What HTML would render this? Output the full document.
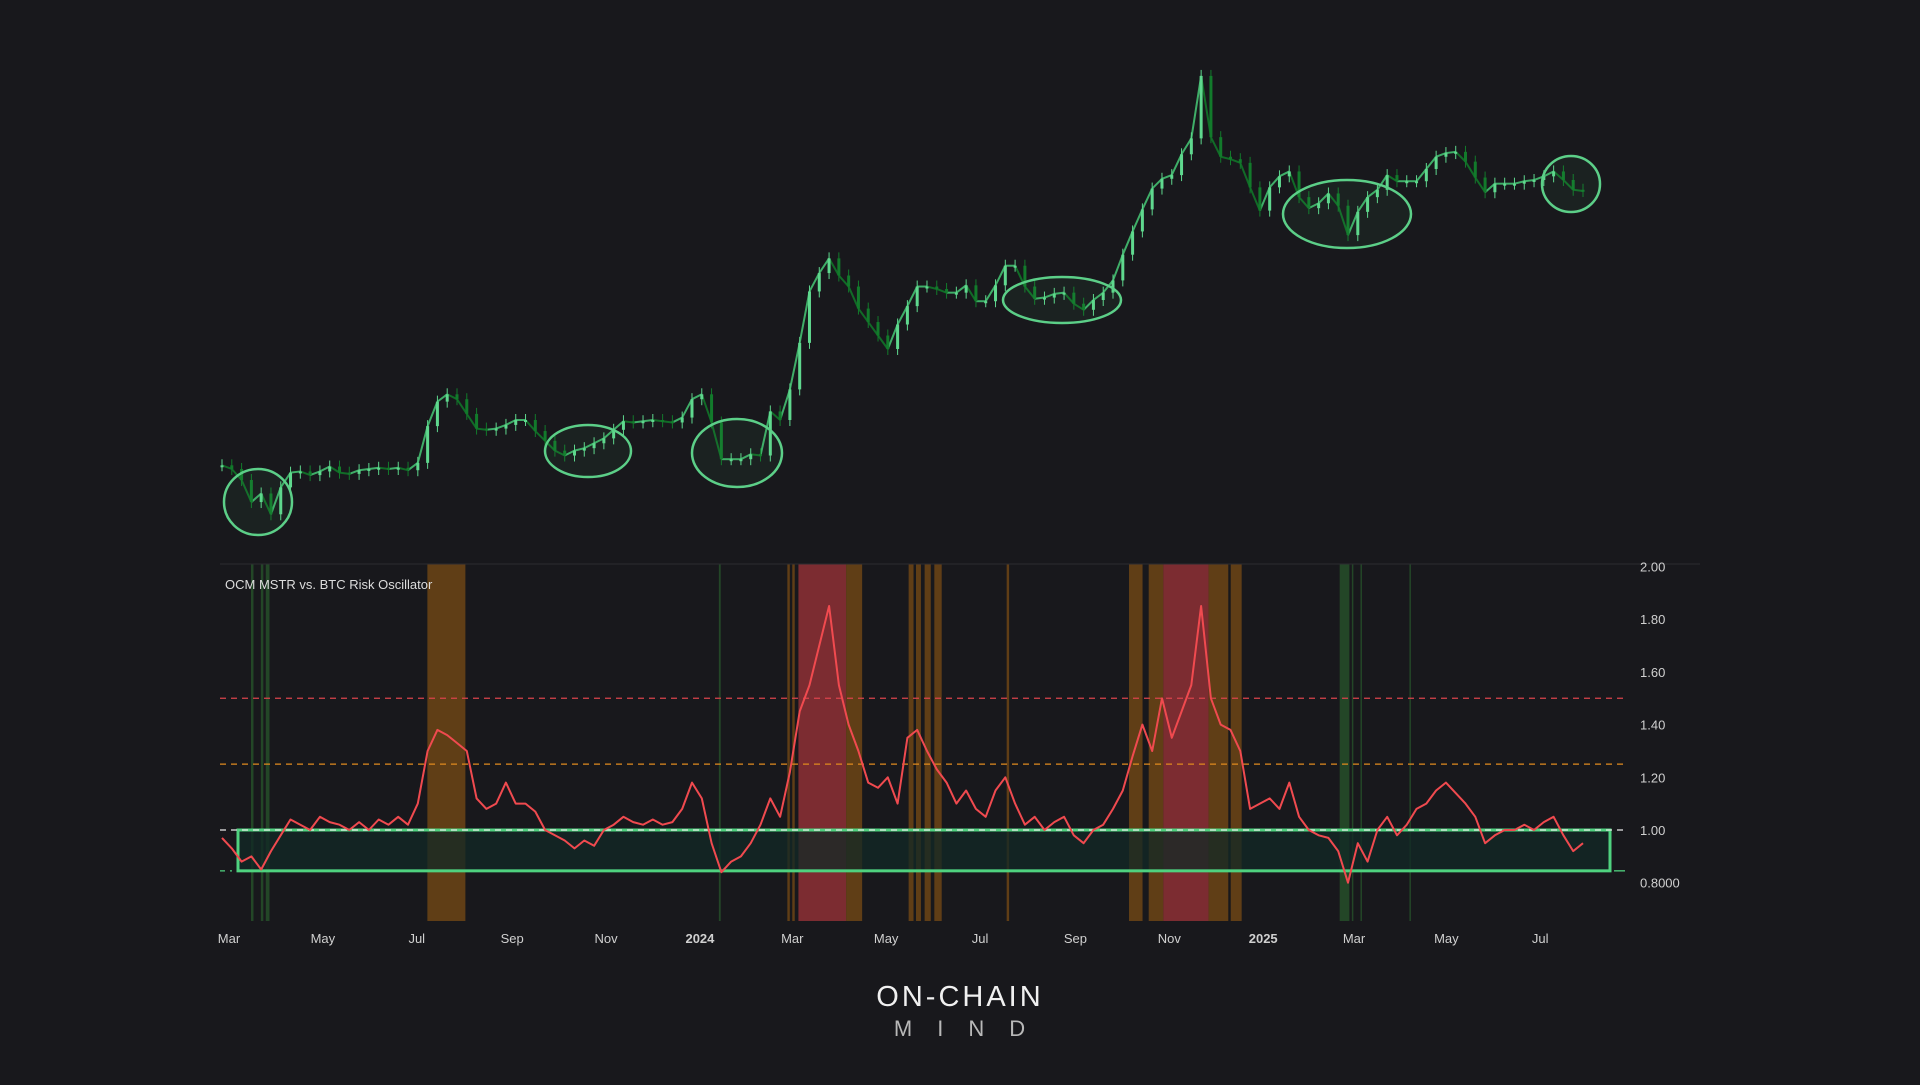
<!DOCTYPE html>
<html><head><meta charset="utf-8"><title>OCM MSTR vs BTC Risk Oscillator</title>
<style>
html,body{margin:0;padding:0;background:#18181c;}
body{width:1920px;height:1080px;overflow:hidden;font-family:"Liberation Sans",sans-serif;}
svg text{font-family:"Liberation Sans",sans-serif;}
</style></head>
<body>
<svg id="chart" width="1920" height="1080" viewBox="0 0 1920 1080" xmlns="http://www.w3.org/2000/svg">
  <rect x="0" y="0" width="1920" height="1080" fill="#18181c"/>
  <g id="bands"></g>
  <line x1="220" y1="564" x2="1700" y2="564" stroke="#2b2b31" stroke-width="1"/>
  <g id="levels"></g>
  <g id="price"></g>
  <g id="circles"></g>
  <g id="osc"></g>
  <g id="yaxis"></g>
  <g id="xaxis"></g>
  <text x="225" y="589" font-size="13" fill="#dcdcdc">OCM MSTR vs. BTC Risk Oscillator</text>
  <text x="960" y="1006" font-size="29" fill="#f0f0f0" text-anchor="middle" letter-spacing="3">ON-CHAIN</text>
  <text x="972" y="1036" font-size="22" fill="#b8b8b8" text-anchor="middle" letter-spacing="25">MIND</text>
</svg>
<script>
const priceCloses = [70,67,58,40,47,30,52,64,65,62,65,69,64,63,66,67,68,67,68,66,72,102,122,128,124,112,100,99,100,103,107,107,98,90,82,78,82,84,88,92,99,106,105,106,107,106,105,109,124,128,105,75,75,75,79,78,114,107,132,170,212,227,239,225,216,198,187,176,165,185,200,216,216,214,211,211,217,204,204,217,233,233,216,206,207,210,211,202,197,205,211,221,242,261,279,296,304,307,324,337,388,338,322,320,317,297,278,297,306,310,289,280,284,292,282,258,277,289,295,307,302,302,302,312,322,325,326,318,305,293,300,300,300,302,303,306,310,303,295,294];
const oscValues = [0.97,0.93,0.88,0.90,0.85,0.92,0.98,1.04,1.02,1.00,1.05,1.03,1.02,1.00,1.03,1.00,1.04,1.02,1.05,1.02,1.10,1.30,1.38,1.36,1.33,1.30,1.12,1.08,1.10,1.18,1.10,1.10,1.07,1.00,0.98,0.96,0.93,0.96,0.94,1.00,1.02,1.05,1.03,1.02,1.04,1.02,1.03,1.08,1.18,1.12,0.95,0.84,0.88,0.90,0.95,1.02,1.12,1.05,1.22,1.45,1.55,1.70,1.85,1.55,1.40,1.30,1.18,1.16,1.20,1.10,1.35,1.38,1.30,1.23,1.18,1.10,1.15,1.08,1.05,1.15,1.20,1.10,1.02,1.05,1.00,1.03,1.05,0.98,0.95,1.00,1.02,1.08,1.15,1.28,1.40,1.30,1.50,1.35,1.45,1.55,1.85,1.50,1.40,1.38,1.30,1.08,1.10,1.12,1.08,1.18,1.05,1.00,0.98,0.97,0.92,0.80,0.95,0.88,1.00,1.05,0.98,1.02,1.08,1.10,1.15,1.18,1.14,1.10,1.05,0.95,0.98,1.00,1.00,1.02,1.00,1.03,1.05,0.98,0.92,0.95];
const yTicks = [2.00,1.80,1.60,1.40,1.20,1.00,0.80];
const yTickLabels = ["2.00","1.80","1.60","1.40","1.20","1.00","0.8000"];
const levelValues = [1.5,1.25,1.0];
const zoneBounds = [0.845,1.0];
const monthLabels = ["Mar","May","Jul","Sep","Nov","2024","Mar","May","Jul","Sep","Nov","2025","Mar","May","Jul"];
const monthBold = [0,0,0,0,0,1,0,0,0,0,0,1,0,0,0];
const monthDays = [0,61,122,184,245,306,366,427,488,550,611,672,731,791,852];
const bandStart = [14.3,20.7,23.9,128.9,318.3,362.8,366,370,401,441.6,446.4,452,458.3,505.3,584.8,597.6,607.1,636.5,650.9,721.7,729.6,735.2,767];
const bandEnd   = [15.9,22.3,26.3,153.6,319.5,364.4,367.6,401,411.4,444.8,449.6,456,463.1,506.9,593.6,607.1,636.5,649.3,658,728,730.4,736,767.8];
const bandType  = ["g","g","g","o","g","o","o","r","o","o","o","o","o","o","o","o","r","o","o","g","g","g","g"];

const NS="http://www.w3.org/2000/svg";
function mk(tag,attrs,parent){const e=document.createElementNS(NS,tag);for(const k in attrs)e.setAttribute(k,attrs[k]);parent.appendChild(e);return e;}
const n=priceCloses.length;
function xIdx(i){return 222+i*(1583-222)/(oscValues.length-1);}
function xDay(d){return 229+d*1.539;}
function yPrice(p){return (450-p)*1.2245;}
function yOsc(v){return 830-(v-1)*263.5;}
const bandColors={g:"rgba(46,110,50,0.55)",o:"rgba(120,75,20,0.75)",r:"rgba(150,50,55,0.8)"};

const bands=document.getElementById('bands');
for(let i=0;i<bandStart.length;i++){
  const x1=xDay(bandStart[i]),x2=xDay(bandEnd[i]);
  const r=mk('rect',{x:x1,y:564,width:Math.max(1.5,x2-x1),height:357,fill:bandColors[bandType[i]]},bands);
  
  
}

const lv=document.getElementById('levels');
const zt=yOsc(zoneBounds[1]),zb=yOsc(zoneBounds[0]);
const zone=mk('rect',{x:238,y:zt,width:1610-238,height:zb-zt,fill:"rgba(18,40,38,0.75)",stroke:"#4fd27f","stroke-width":3},lv);


const lvColors=["#d9434b","#e08a1e","#e8e8e8"];
for(let i=0;i<levelValues.length;i++){
  const l=mk('line',{x1:220,x2:1625,y1:yOsc(levelValues[i]),y2:yOsc(levelValues[i]),stroke:lvColors[i],"stroke-width":1.3,"stroke-dasharray":"6 5"},lv);
  
  
}
const gt=mk('line',{x1:220,x2:232,y1:zb,y2:zb,stroke:"#4fd27f","stroke-width":1.3,"stroke-dasharray":"5 5"},lv);


const gt2=mk('line',{x1:1614,x2:1625,y1:zb,y2:zb,stroke:"#4fd27f","stroke-width":1.3},lv);



const pg=document.getElementById('price');
for(let i=0;i<n;i++){
  const c=priceCloses[i],o=i>0?priceCloses[i-1]:c;
  const up=c>=o;
  const x=xIdx(i);
  const top=yPrice(Math.max(o,c)),bot=yPrice(Math.min(o,c));
  const col=up?"#5fd88e":"#127a2b";
  if(i<n-1){
    const nx=xIdx(i+1);
    const s=mk('line',{x1:x,y1:yPrice(c),x2:nx,y2:yPrice(priceCloses[i+1]),stroke:priceCloses[i+1]>=c?"#3fae68":"#116b27","stroke-width":2},pg);
    
    
  }
  const w=mk('line',{x1:x,x2:x,y1:top-6,y2:bot+6,stroke:col,"stroke-width":1},pg);
  
  
  const b=mk('rect',{x:x-1.5,y:top,width:3,height:Math.max(2,bot-top),fill:col},pg);
  
  
}

const circ=document.getElementById('circles');
const ells=[[258,502,34,33],[588,451,43,26],[737,453,45,34],[1062,300,59,23],[1347,214,64,34],[1571,184,29,28]];
for(const e of ells){
  const el=mk('ellipse',{cx:e[0],cy:e[1],rx:e[2],ry:e[3],fill:"rgba(79,201,122,0.06)",stroke:"#5ccf88","stroke-width":2.5},circ);
  
  
}

const og=document.getElementById('osc');
let d="";
for(let i=0;i<oscValues.length;i++){d+=(i?"L":"M")+xIdx(i).toFixed(1)+" "+yOsc(oscValues[i]).toFixed(1);}
const op=mk('path',{d:d,fill:"none",stroke:"#f04a4f","stroke-width":2,"stroke-linejoin":"round"},og);



const ya=document.getElementById('yaxis');
for(let i=0;i<yTicks.length;i++){
  const t=mk('text',{x:1640,y:yOsc(yTicks[i])+5,"font-size":13,fill:"#d0d0d0"},ya);
  t.textContent=yTickLabels[i];
  
  
}
const xa=document.getElementById('xaxis');
for(let i=0;i<monthLabels.length;i++){
  const t=mk('text',{x:xDay(monthDays[i]),y:943,"font-size":13,fill:"#d0d0d0","text-anchor":"middle","font-weight":monthBold[i]?"bold":"normal"},xa);
  t.textContent=monthLabels[i];
  
  
}
</script>
</body></html>
